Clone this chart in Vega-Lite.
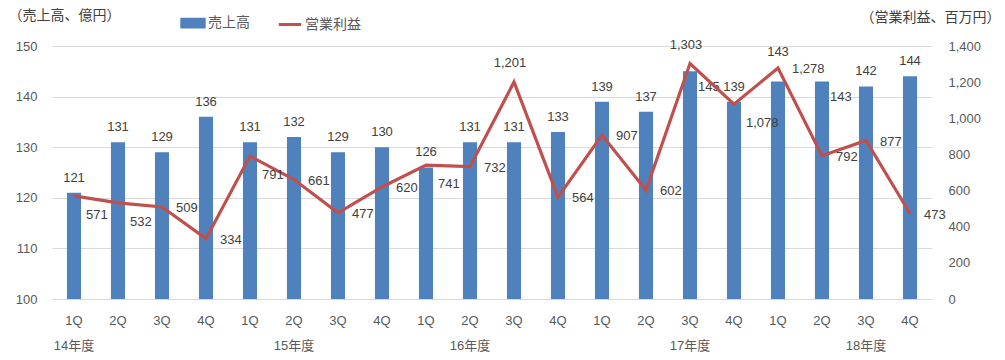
{
  "$schema": "https://vega.github.io/schema/vega-lite/v6.json",
  "width": 1005,
  "height": 360,
  "autosize": {"type": "fit", "contains": "padding"},
  "padding": {"left": 8, "right": 5, "top": 8, "bottom": 8},
  "background": "white",
  "config": {
    "font": "Liberation Sans, Noto Sans CJK JP",
    "view": {"stroke": null},
    "axis": {"labelColor": "#595959", "titleColor": "#404040", "labelFontSize": 13, "titleFontSize": 14, "titleFontWeight": "normal", "ticks": false, "labelOverlap": false},
    "axisRight": {"labelOverlap": false, "tickCount": 8}
  },
  "data": {
    "values": [
      {"k": "14年度 1Q", "sales": 121, "op": 571},
      {"k": "14年度 2Q", "sales": 131, "op": 532},
      {"k": "14年度 3Q", "sales": 129, "op": 509},
      {"k": "14年度 4Q", "sales": 136, "op": 334},
      {"k": "15年度 1Q", "sales": 131, "op": 791},
      {"k": "15年度 2Q", "sales": 132, "op": 661},
      {"k": "15年度 3Q", "sales": 129, "op": 477},
      {"k": "15年度 4Q", "sales": 130, "op": 620},
      {"k": "16年度 1Q", "sales": 126, "op": 741},
      {"k": "16年度 2Q", "sales": 131, "op": 732},
      {"k": "16年度 3Q", "sales": 131, "op": 1201},
      {"k": "16年度 4Q", "sales": 133, "op": 564},
      {"k": "17年度 1Q", "sales": 139, "op": 907},
      {"k": "17年度 2Q", "sales": 137, "op": 602},
      {"k": "17年度 3Q", "sales": 145, "op": 1303},
      {"k": "17年度 4Q", "sales": 139, "op": 1078},
      {"k": "18年度 1Q", "sales": 143, "op": 1278},
      {"k": "18年度 2Q", "sales": 143, "op": 792},
      {"k": "18年度 3Q", "sales": 142, "op": 877},
      {"k": "18年度 4Q", "sales": 144, "op": 473}
    ]
  },
  "encoding": {
    "x": {
      "field": "k", "type": "nominal", "sort": null,
      "scale": {"paddingInner": 0.68, "paddingOuter": 0.34},
      "axis": {
        "title": null, "labelAngle": 0, "grid": false,
        "domain": true, "domainColor": "#d9d9d9",
        "labelPadding": 15, "labelLineHeight": 25,
        "labelExpr": "[split(datum.value, ' ')[1], datum.value == '14年度 1Q' ? '\u00a0\u00a0\u00a0\u00a0\u00a0\u00a0\u00a0\u00a0\u00a0\u00a014年度' : indexof(['15年度 2Q','16年度 2Q','17年度 3Q','18年度 3Q'], datum.value) >= 0 ? split(datum.value, ' ')[0] : '']"
      }
    }
  },
  "layer": [
    {
      "layer": [
        {
          "mark": {"type": "bar", "color": "#4F81BD"},
          "encoding": {
            "y": {
              "field": "sales", "type": "quantitative",
              "scale": {"domain": [100, 150], "zero": false, "clamp": true},
              "axis": {
                "values": [100, 110, 120, 130, 140, 150], "domain": false,
                "grid": true, "gridColor": "#d9d9d9", "labelPadding": 15,
                "title": "（売上高、億円）", "titleAngle": 0, "titleAlign": "left",
                "titleBaseline": "middle", "titleX": -44, "titleY": -31
              }
            },
            "color": {
              "datum": "売上高", "type": "nominal",
              "scale": {"domain": ["売上高", "営業利益"], "range": ["#4F81BD", "#C0504D"]},
              "legend": {
                "title": null, "orient": "none", "direction": "horizontal",
                "legendX": 128, "legendY": -36, "labelFontSize": 14, "labelColor": "#595959",
                "symbolSize": 500, "symbolStrokeWidth": 3, "columnPadding": 22, "labelOffset": 2,
                "encode": {"symbols": {"update": {"shape": {"signal": "datum.value == '売上高' ? 'M-1,-0.35H1V0.35H-1Z' : 'M-1,0H1'"}, "strokeWidth": {"value": 3}, "stroke": {"signal": "datum.value == '売上高' ? null : '#C0504D'"}}}}
              }
            }
          }
        },
        {
          "transform": [{"filter": {"not": {"field": "k", "oneOf": ["17年度 3Q", "18年度 1Q", "18年度 2Q"]}}}],
          "mark": {"type": "text", "baseline": "bottom", "dy": -8, "fontSize": 13, "color": "#404040"},
          "encoding": {
            "y": {"field": "sales", "type": "quantitative", "scale": {"domain": [100, 150], "zero": false}},
            "text": {"field": "sales", "type": "quantitative"}
          }
        },
        {
          "transform": [{"filter": {"field": "k", "oneOf": ["18年度 1Q"]}}],
          "mark": {"type": "text", "baseline": "bottom", "dy": -22, "fontSize": 13, "color": "#404040"},
          "encoding": {
            "y": {"field": "sales", "type": "quantitative", "scale": {"domain": [100, 150], "zero": false}},
            "text": {"field": "sales", "type": "quantitative"}
          }
        },
        {
          "transform": [{"filter": {"field": "k", "oneOf": ["17年度 3Q", "18年度 2Q"]}}],
          "mark": {"type": "text", "align": "left", "baseline": "middle", "dx": 8, "dy": 16, "fontSize": 13, "color": "#404040"},
          "encoding": {
            "y": {"field": "sales", "type": "quantitative", "scale": {"domain": [100, 150], "zero": false}},
            "text": {"field": "sales", "type": "quantitative"}
          }
        }
      ]
    },
    {
      "layer": [
        {
          "mark": {"type": "line", "strokeWidth": 3.2},
          "encoding": {
            "y": {
              "field": "op", "type": "quantitative",
              "scale": {"domain": [0, 1400], "nice": false},
              "axis": {
                "orient": "right", "values": [0, 200, 400, 600, 800, 1000, 1200, 1400],
                "format": ",.0f", "labelOverlap": false, "grid": false, "domain": false, "labelPadding": 16,
                "title": "（営業利益、百万円）", "titleAngle": 0, "titleAlign": "right",
                "titleBaseline": "middle", "titleX": 68, "titleY": -29
              }
            },
            "color": {"datum": "営業利益", "type": "nominal"}
          }
        },
        {
          "transform": [{"filter": {"not": {"field": "k", "oneOf": ["14年度 1Q", "14年度 2Q", "15年度 1Q", "16年度 1Q", "17年度 4Q", "16年度 3Q", "17年度 3Q"]}}}],
          "mark": {"type": "text", "align": "left", "baseline": "middle", "dx": 14, "dy": 1, "fontSize": 13, "color": "#404040"},
          "encoding": {
            "y": {"field": "op", "type": "quantitative"},
            "text": {"field": "op", "type": "quantitative", "format": ","}
          }
        },
        {
          "transform": [{"filter": {"field": "k", "oneOf": ["14年度 1Q", "14年度 2Q", "15年度 1Q", "16年度 1Q", "17年度 4Q"]}}],
          "mark": {"type": "text", "align": "left", "baseline": "middle", "dx": 12, "dy": 19, "fontSize": 13, "color": "#404040"},
          "encoding": {
            "y": {"field": "op", "type": "quantitative"},
            "text": {"field": "op", "type": "quantitative", "format": ","}
          }
        },
        {
          "transform": [{"filter": {"field": "k", "oneOf": ["16年度 3Q", "17年度 3Q"]}}],
          "mark": {"type": "text", "align": "center", "baseline": "bottom", "dx": -4, "dy": -12, "fontSize": 13, "color": "#404040"},
          "encoding": {
            "y": {"field": "op", "type": "quantitative"},
            "text": {"field": "op", "type": "quantitative", "format": ","}
          }
        }
      ]
    }
  ],
  "resolve": {"scale": {"y": "independent"}}
}
